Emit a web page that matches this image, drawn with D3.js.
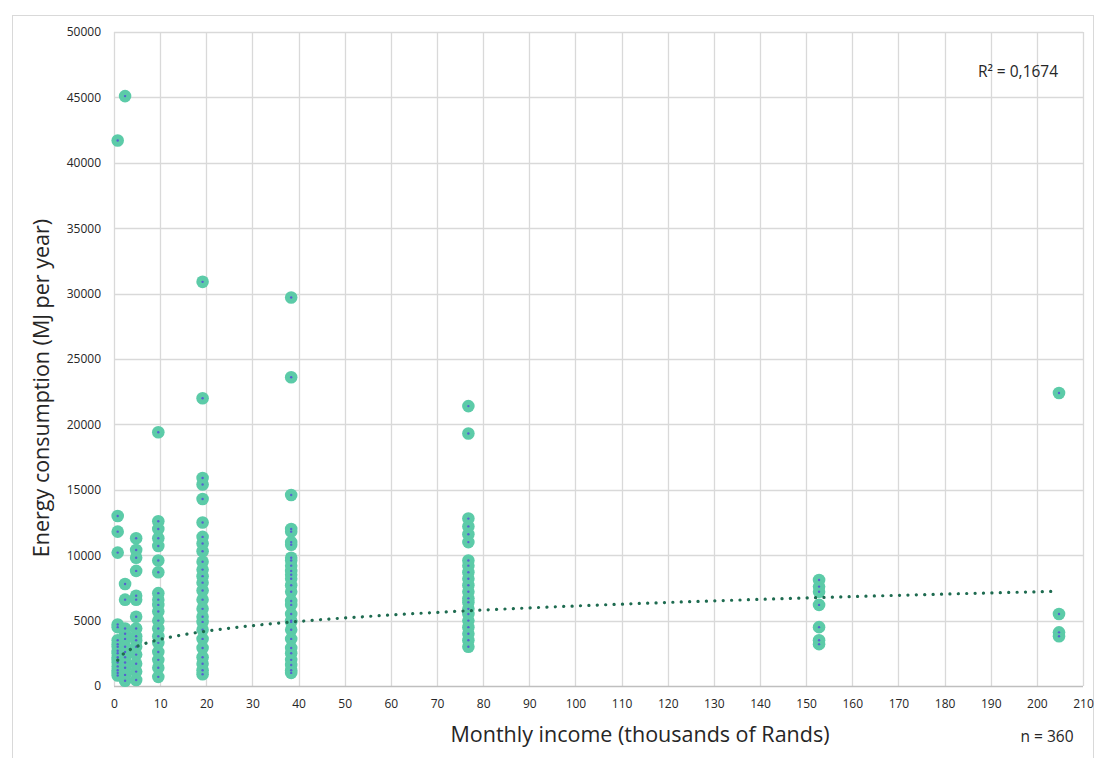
<!DOCTYPE html>
<html>
<head>
<meta charset="utf-8">
<script src="https://cdn.jsdelivr.net/npm/d3@7"></script>
<style>
  body { margin: 0; background: #fff; }
  svg text { font-family: "Open Sans", "Liberation Sans", sans-serif; fill: #262626; }
</style>
</head>
<body>
<svg id="chart" width="1107" height="758"></svg>
<script>
// income groups (thousands of Rands per month)
var incomeLevels = [0.8, 2.4, 4.8, 9.6, 19.2, 38.4, 76.8, 152.8, 204.8];

// energy consumption per household, one list per income group (MJ per year)
var energyByIncome = [
  [41700, 13000, 11800, 10200, 4700, 4500, 3500, 3200, 3000, 2700, 2500, 2200, 2000, 1800, 1500, 1200, 1000, 800],
  [45100, 7800, 6600, 4400, 4000, 3600, 3000, 2600, 2200, 1800, 1400, 850, 400],
  [11300, 10400, 9800, 8800, 6900, 6600, 5300, 4400, 3800, 3500, 3000, 2400, 1700, 1100, 460],
  [19400, 12600, 12000, 11300, 10700, 9600, 8700, 7100, 6600, 6200, 5700, 5000, 4400, 3800, 3300, 2600, 2000, 1400, 700],
  [30900, 22000, 15900, 15400, 14300, 12500, 11400, 10900, 10300, 9500, 8900, 8400, 7900, 7300, 6600, 5900, 5300, 4900, 4300, 3600, 2900, 2200, 1700, 1200, 900],
  [29700, 23600, 14600, 12000, 11800, 11000, 10800, 9800, 9600, 9200, 8800, 8500, 8200, 7700, 7200, 6500, 6200, 5500, 5000, 4900, 4300, 3600, 2900, 2500, 2000, 1600, 1200, 1000],
  [21400, 19300, 12800, 12200, 11600, 11000, 9600, 9200, 8700, 8200, 7700, 7200, 6700, 6400, 5900, 5500, 5000, 4500, 4000, 3500, 3000],
  [8100, 7600, 7200, 6200, 4500, 3500, 3200],
  [22400, 5500, 4100, 3800]
];

var xTicks = d3.range(0, 211, 10);
var yTicks = d3.range(0, 50001, 5000);

// power trendline y = c * x^p
var trendCoef = 2074;
var trendPower = 0.235;
var rSquaredLabel = 'R\u00b2 = 0,1674';
var sampleLabel = 'n = 360';

var svg = d3.select('#chart');
var margin = { left: 114, right: 1083, top: 32, bottom: 686 };

var x = d3.scaleLinear().domain([0, 210]).range([margin.left, margin.right]);
var y = d3.scaleLinear().domain([0, 50000]).range([margin.bottom, margin.top]);

// outer chart frame
svg.append('rect')
  .attr('x', 12.5).attr('y', 15.5)
  .attr('width', 1081).attr('height', 780)
  .attr('fill', 'none').attr('stroke', '#d9d9d9');

// grid
svg.append('g').selectAll('line.v')
  .data(xTicks).enter().append('line')
  .attr('x1', function(d) { return Math.round(x(d)) + 0.5; })
  .attr('x2', function(d) { return Math.round(x(d)) + 0.5; })
  .attr('y1', margin.top).attr('y2', margin.bottom)
  .attr('stroke', '#d9d9d9').attr('stroke-width', 1.3);

svg.append('g').selectAll('line.h')
  .data(yTicks).enter().append('line')
  .attr('y1', function(d) { return Math.round(y(d)) + 0.5; })
  .attr('y2', function(d) { return Math.round(y(d)) + 0.5; })
  .attr('x1', margin.left).attr('x2', margin.right)
  .attr('stroke', function(d) { return d === 0 ? '#bfbfbf' : '#d9d9d9'; })
  .attr('stroke-width', 1.3);

// axes (labels only, Excel style)
var xAxis = svg.append('g')
  .attr('transform', 'translate(0,' + (margin.bottom + 10) + ')')
  .call(d3.axisBottom(x).tickValues(xTicks).tickSize(0).tickPadding(3));
var yAxis = svg.append('g')
  .attr('transform', 'translate(' + (margin.left - 13) + ',0)')
  .call(d3.axisLeft(y).tickValues(yTicks).tickSize(0).tickPadding(0).tickFormat(d3.format('d')));
[xAxis, yAxis].forEach(function(a) {
  a.select('.domain').remove();
  a.selectAll('text').style('font-size', '12px').attr('fill', '#404040');
});

// points
var points = [];
incomeLevels.forEach(function(inc, i) {
  energyByIncome[i].forEach(function(v) { points.push({ x: inc, y: v }); });
});

var marks = svg.append('g');
marks.selectAll('circle.outer').data(points).enter().append('circle')
  .attr('cx', function(d) { return x(d.x); })
  .attr('cy', function(d) { return y(d.y); })
  .attr('r', 6.3)
  .attr('fill', '#5ccba8');
marks.selectAll('circle.inner').data(points).enter().append('circle')
  .attr('cx', function(d) { return x(d.x); })
  .attr('cy', function(d) { return y(d.y); })
  .attr('r', 1.2)
  .attr('fill', '#5560d0');

// trendline
var xMin = d3.min(incomeLevels), xMax = d3.max(incomeLevels);
var trendX = d3.range(0, 201).map(function(i) { return xMin * Math.pow(xMax / xMin, i / 200); });
var trendLine = d3.line()
  .x(function(d) { return x(d); })
  .y(function(d) { return y(trendCoef * Math.pow(d, trendPower)); })
  .curve(d3.curveLinear);
svg.append('path')
  .attr('d', trendLine(trendX))
  .attr('fill', 'none')
  .attr('stroke', '#1e6b50')
  .attr('stroke-width', 3.2)
  .attr('stroke-linecap', 'round')
  .attr('stroke-dasharray', '0.1 8.3');

// titles
svg.append('text')
  .attr('transform', 'translate(49,388) rotate(-90)')
  .attr('text-anchor', 'middle')
  .style('font-size', '21.5px')
  .text('Energy consumption (MJ per year)');

svg.append('text')
  .attr('x', 640).attr('y', 742)
  .attr('text-anchor', 'middle')
  .style('font-size', '21.5px')
  .text('Monthly income (thousands of Rands)');

svg.append('text')
  .attr('x', 1018).attr('y', 77)
  .attr('text-anchor', 'middle')
  .style('font-size', '15.5px')
  .text(rSquaredLabel);

svg.append('text')
  .attr('x', 1047).attr('y', 742)
  .attr('text-anchor', 'middle')
  .style('font-size', '15.5px')
  .text(sampleLabel);
</script>
</body>
</html>
